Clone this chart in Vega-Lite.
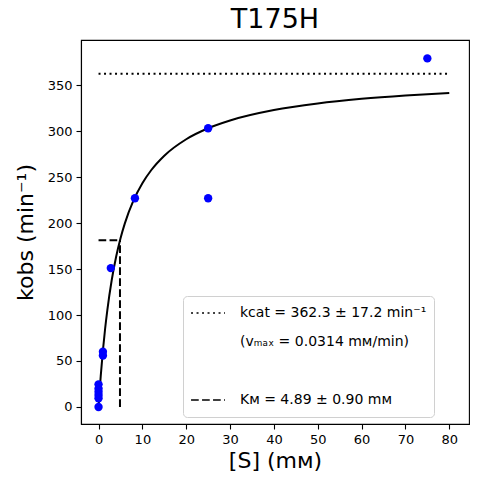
{
  "$schema": "https://vega.github.io/schema/vega-lite/v6.json",
  "autosize": {"type": "none"},
  "padding": {"left": 81, "top": 40, "right": 8, "bottom": 60},
  "width": 388,
  "height": 384,
  "background": "white",
  "title": {"text": "T175H", "fontSize": 27, "fontWeight": "normal", "color": "black", "offset": 6},
  "config": {
    "font": "DejaVu Sans",
    "view": {"stroke": "black", "strokeWidth": 1.1},
    "axis": {
      "grid": false,
      "domainColor": "black",
      "domainWidth": 1.1,
      "tickColor": "black",
      "tickSize": 5,
      "tickWidth": 1.1,
      "labelColor": "black",
      "labelFontSize": 13,
      "labelPadding": 4,
      "titleColor": "black",
      "titleFontSize": 22,
      "titleFontWeight": "normal"
    }
  },
  "datasets": {
    "points": [
      {"S": 0, "k": 0},
      {"S": 0, "k": 9.5},
      {"S": 0, "k": 13},
      {"S": 0, "k": 16.6},
      {"S": 0, "k": 20},
      {"S": 0, "k": 24.6},
      {"S": 1.0, "k": 56},
      {"S": 1.0, "k": 60},
      {"S": 2.8, "k": 151},
      {"S": 8.3, "k": 227},
      {"S": 25, "k": 303},
      {"S": 25, "k": 227},
      {"S": 75, "k": 379}
    ],
    "curve": [
      {"S": 0, "k": 0},
      {"S": 0.25, "k": 17.62},
      {"S": 0.5, "k": 33.61},
      {"S": 1, "k": 61.51},
      {"S": 1.5, "k": 85.05},
      {"S": 2, "k": 105.17},
      {"S": 3, "k": 137.76},
      {"S": 4, "k": 163.01},
      {"S": 5, "k": 183.17},
      {"S": 6, "k": 199.61},
      {"S": 8, "k": 224.86},
      {"S": 10, "k": 243.32},
      {"S": 12, "k": 257.41},
      {"S": 15, "k": 273.23},
      {"S": 20, "k": 291.12},
      {"S": 25, "k": 303.03},
      {"S": 30, "k": 311.52},
      {"S": 40, "k": 322.83},
      {"S": 50, "k": 330.02},
      {"S": 60, "k": 335.0},
      {"S": 70, "k": 338.64},
      {"S": 80, "k": 341.43}
    ],
    "guides": [
      {"line": "kcat = 362.3 ± 17.2 min⁻¹", "x": 0, "x2": 80, "y": 362.3, "y2": 362.3},
      {"line": "Kᴍ = 4.89 ± 0.90 mᴍ", "x": 0, "x2": 4.89, "y": 181.15, "y2": 181.15},
      {"line": "Kᴍ = 4.89 ± 0.90 mᴍ", "x": 4.89, "x2": 4.89, "y": 0, "y2": 181.15}
    ]
  },
  "layer": [
    {
      "data": {"name": "guides"},
      "mark": {"type": "rule", "color": "black", "strokeWidth": 2},
      "encoding": {
        "x": {
          "field": "x",
          "type": "quantitative",
          "scale": {"domain": [-4, 84.5], "nice": false, "zero": false},
          "axis": {"values": [0, 10, 20, 30, 40, 50, 60, 70, 80], "title": "[S] (mᴍ)"}
        },
        "x2": {"field": "x2"},
        "y": {
          "field": "y",
          "type": "quantitative",
          "scale": {"domain": [-18.5, 399], "nice": false, "zero": false},
          "axis": {"values": [0, 50, 100, 150, 200, 250, 300, 350], "title": "kobs (min⁻¹)", "titlePadding": 10}
        },
        "y2": {"field": "y2"},
        "strokeDash": {
          "field": "line",
          "type": "nominal",
          "scale": {
            "domain": ["kcat = 362.3 ± 17.2 min⁻¹", "(vₘₐₓ = 0.0314 mᴍ/min)", " ", "Kᴍ = 4.89 ± 0.90 mᴍ"],
            "range": [[2, 3.5], [0, 1000], [0, 1000], [7.7, 3.3]]
          },
          "legend": {
            "title": null,
            "orient": "none",
            "legendX": 102,
            "legendY": 256,
            "padding": 7,
            "fillColor": "white",
            "strokeColor": "#d0d0d0",
            "cornerRadius": 4,
            "symbolType": "stroke",
            "symbolSize": 1150,
            "symbolStrokeWidth": 1.6,
            "symbolStrokeColor": "black",
            "clipHeight": 20,
            "labelFontSize": 14,
            "labelColor": "black",
            "labelOffset": 14,
            "labelLimit": 400,
            "rowPadding": 9
          }
        }
      }
    },
    {
      "data": {"name": "curve"},
      "mark": {"type": "line", "color": "black", "strokeWidth": 2, "interpolate": "monotone"},
      "encoding": {
        "x": {"field": "S", "type": "quantitative"},
        "y": {"field": "k", "type": "quantitative"}
      }
    },
    {
      "data": {"name": "points"},
      "mark": {"type": "circle", "color": "#0000ff", "opacity": 1, "size": 70},
      "encoding": {
        "x": {"field": "S", "type": "quantitative"},
        "y": {"field": "k", "type": "quantitative"}
      }
    }
  ]
}
